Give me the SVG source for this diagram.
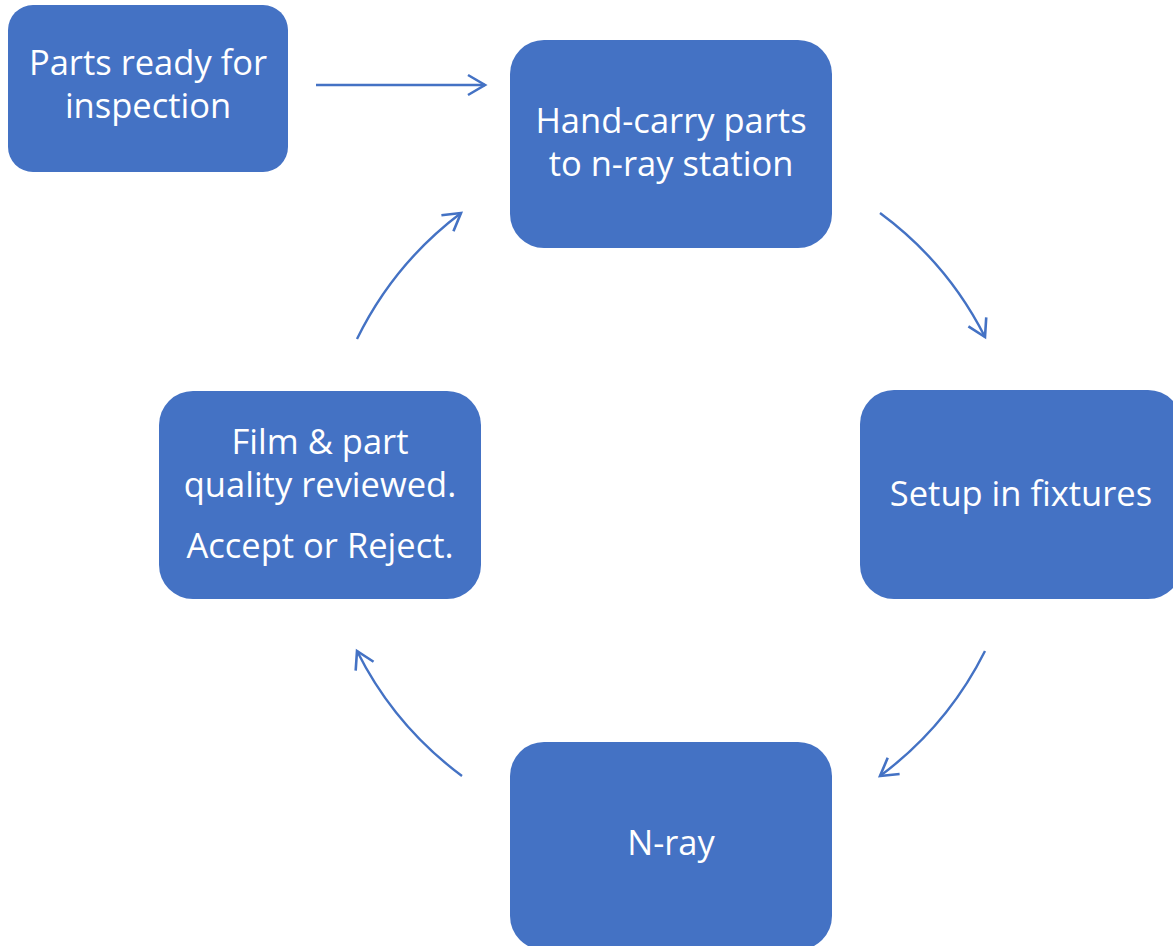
<svg xmlns="http://www.w3.org/2000/svg" width="1173" height="946" viewBox="0 0 1173 946">
<defs>
<style>
.box{fill:#4472C4;}
.t{fill:#fff;font-family:"Open Sans","Liberation Sans",sans-serif;font-size:34.5px;text-anchor:middle;}
.c{fill:none;stroke:#4472C4;stroke-width:2.4;}
</style>
<marker id="ah" markerUnits="userSpaceOnUse" markerWidth="24" markerHeight="26" refX="20" refY="12" orient="auto" overflow="visible">
<path d="M3,2 L20,12 L3,22" fill="none" stroke="#4472C4" stroke-width="2.6"/>
</marker>
</defs>
<rect width="1173" height="946" fill="#fff"/>
<g id="connectors">
<path class="c" d="M316,85 L485,85" marker-end="url(#ah)"/>
<path class="c" d="M880,213 A351,351 0 0 1 985,337" marker-end="url(#ah)"/>
<path class="c" d="M985,651 A351,351 0 0 1 880,776" marker-end="url(#ah)"/>
<path class="c" d="M462,776 A351,351 0 0 1 357,651" marker-end="url(#ah)"/>
<path class="c" d="M357,339 A351,351 0 0 1 461,213" marker-end="url(#ah)"/>
</g>
<g id="n1">
<rect class="box" x="8" y="5" width="280" height="167" rx="25"/>
<text class="t" x="148" y="75">Parts ready for</text>
<text class="t" x="148" y="118">inspection</text>
</g>
<g id="n2">
<rect class="box" x="510" y="40" width="322" height="208" rx="34"/>
<text class="t" x="671" y="133">Hand-carry parts</text>
<text class="t" x="671" y="176">to n-ray station</text>
</g>
<g id="n3">
<rect class="box" x="860" y="390" width="322" height="209" rx="34"/>
<text class="t" x="1021" y="506">Setup in fixtures</text>
</g>
<g id="n4">
<rect class="box" x="510" y="742" width="322" height="208" rx="34"/>
<text class="t" x="671" y="855">N-ray</text>
</g>
<g id="n5">
<rect class="box" x="159" y="391" width="322" height="208" rx="34"/>
<text class="t" x="320" y="454">Film &amp; part</text>
<text class="t" x="320" y="497">quality reviewed.</text>
<text class="t" x="320" y="558">Accept or Reject.</text>
</g>
</svg>
